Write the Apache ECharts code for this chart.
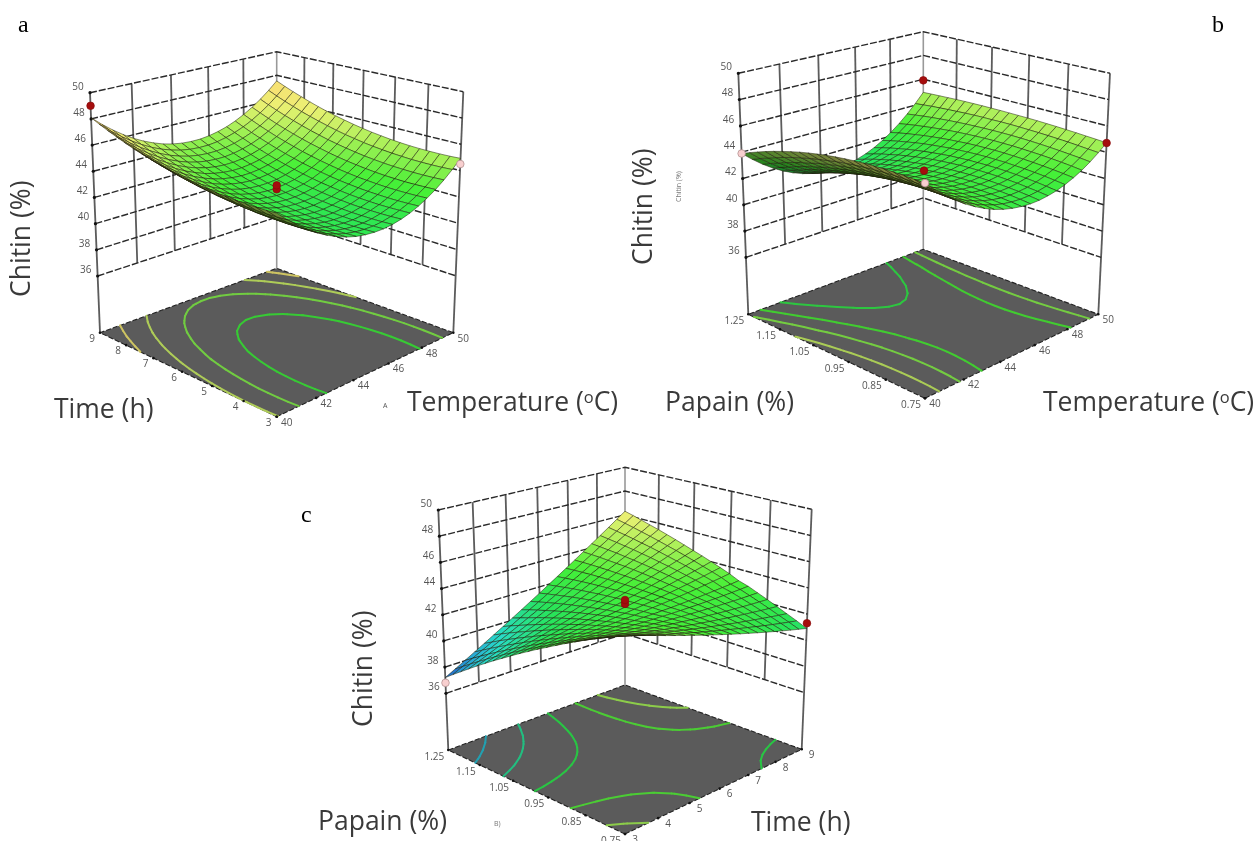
<!DOCTYPE html>
<html><head><meta charset="utf-8"><style>html,body{margin:0;background:#fff}#c{width:1255px;height:841px}</style>
<script src="https://cdn.jsdelivr.net/npm/echarts@6/dist/echarts.min.js"></script></head><body><div id="c"></div><script>
const N=21;
const chitinA=[
[45.49,44.79,44.17,43.62,43.13,42.72,42.38,42.10,41.90,41.77,41.71,41.71,41.79,41.94,42.15,42.44,42.80,43.22,43.72,44.29,44.93],
[45.45,44.75,44.13,43.58,43.10,42.68,42.34,42.07,41.86,41.73,41.67,41.67,41.75,41.90,42.12,42.40,42.76,43.19,43.68,44.25,44.89],
[45.43,44.73,44.11,43.56,43.08,42.66,42.32,42.05,41.84,41.71,41.65,41.65,41.73,41.88,42.10,42.38,42.74,43.17,43.66,44.23,44.87],
[45.43,44.73,44.11,43.56,43.07,42.66,42.32,42.04,41.84,41.71,41.65,41.65,41.73,41.88,42.09,42.38,42.74,43.16,43.66,44.23,44.87],
[45.44,44.75,44.12,43.57,43.09,42.68,42.33,42.06,41.86,41.72,41.66,41.67,41.74,41.89,42.11,42.40,42.75,43.18,43.68,44.24,44.88],
[45.47,44.78,44.16,43.60,43.12,42.71,42.37,42.09,41.89,41.76,41.69,41.70,41.78,41.92,42.14,42.43,42.79,43.21,43.71,44.28,44.91],
[45.52,44.83,44.21,43.66,43.17,42.76,42.42,42.14,41.94,41.81,41.74,41.75,41.83,41.98,42.19,42.48,42.84,43.26,43.76,44.33,44.96],
[45.59,44.90,44.28,43.72,43.24,42.83,42.48,42.21,42.01,41.88,41.81,41.82,41.90,42.04,42.26,42.55,42.90,43.33,43.83,44.40,45.03],
[45.68,44.99,44.36,43.81,43.33,42.91,42.57,42.30,42.09,41.96,41.90,41.91,41.98,42.13,42.35,42.63,42.99,43.42,43.91,44.48,45.12],
[45.78,45.09,44.47,43.91,43.43,43.02,42.67,42.40,42.20,42.06,42.00,42.01,42.09,42.23,42.45,42.74,43.09,43.52,44.02,44.58,45.22],
[45.90,45.21,44.59,44.03,43.55,43.14,42.80,42.52,42.32,42.19,42.12,42.13,42.21,42.35,42.57,42.86,43.22,43.64,44.14,44.71,45.34],
[46.04,45.35,44.73,44.17,43.69,43.28,42.93,42.66,42.46,42.32,42.26,42.27,42.35,42.49,42.71,43.00,43.35,43.78,44.28,44.84,45.48],
[46.20,45.51,44.88,44.33,43.85,43.43,43.09,42.82,42.61,42.48,42.42,42.43,42.50,42.65,42.87,43.15,43.51,43.94,44.43,45.00,45.64],
[46.37,45.68,45.06,44.50,44.02,43.61,43.26,42.99,42.79,42.66,42.59,42.60,42.68,42.82,43.04,43.33,43.68,44.11,44.61,45.18,45.81],
[46.56,45.87,45.25,44.70,44.21,43.80,43.46,43.18,42.98,42.85,42.78,42.79,42.87,43.02,43.23,43.52,43.88,44.30,44.80,45.37,46.00],
[46.77,46.08,45.46,44.90,44.42,44.01,43.67,43.39,43.19,43.06,42.99,43.00,43.08,43.22,43.44,43.73,44.09,44.51,45.01,45.58,46.21],
[47.00,46.31,45.68,45.13,44.65,44.24,43.89,43.62,43.42,43.28,43.22,43.23,43.30,43.45,43.67,43.96,44.31,44.74,45.24,45.80,46.44],
[47.25,46.55,45.93,45.38,44.89,44.48,44.14,43.86,43.66,43.53,43.47,43.47,43.55,43.70,43.91,44.20,44.56,44.98,45.48,46.05,46.69],
[47.51,46.81,46.19,45.64,45.16,44.74,44.40,44.13,43.92,43.79,43.73,43.73,43.81,43.96,44.18,44.46,44.82,45.25,45.74,46.31,46.95],
[47.79,47.09,46.47,45.92,45.44,45.02,44.68,44.41,44.20,44.07,44.01,44.01,44.09,44.24,44.46,44.74,45.10,45.53,46.02,46.59,47.23],
[48.09,47.39,46.77,46.22,45.73,45.32,44.98,44.70,44.50,44.37,44.31,44.31,44.39,44.54,44.75,45.04,45.40,45.82,46.32,46.89,47.53]];
const chitinB=[
[46.28,45.58,44.95,44.39,43.88,43.45,43.08,42.77,42.53,42.36,42.25,42.20,42.22,42.31,42.45,42.67,42.95,43.29,43.70,44.18,44.72],
[46.32,45.63,45.00,44.43,43.94,43.51,43.14,42.84,42.60,42.43,42.33,42.29,42.31,42.40,42.55,42.76,43.04,43.38,43.78,44.24,44.77],
[46.35,45.65,45.03,44.47,43.97,43.54,43.18,42.89,42.66,42.49,42.39,42.36,42.39,42.47,42.63,42.84,43.11,43.45,43.84,44.30,44.82],
[46.35,45.66,45.04,44.48,43.99,43.57,43.21,42.92,42.69,42.53,42.44,42.41,42.44,42.54,42.69,42.90,43.17,43.51,43.90,44.36,44.87],
[46.35,45.66,45.03,44.48,43.99,43.57,43.22,42.93,42.71,42.56,42.47,42.45,42.48,42.58,42.74,42.95,43.22,43.56,43.95,44.40,44.91],
[46.32,45.63,45.01,44.46,43.98,43.56,43.21,42.93,42.71,42.56,42.48,42.47,42.51,42.61,42.77,42.98,43.26,43.59,43.99,44.44,44.95],
[46.28,45.59,44.97,44.42,43.94,43.53,43.18,42.91,42.70,42.55,42.48,42.47,42.52,42.62,42.79,43.01,43.28,43.62,44.02,44.47,44.98],
[46.22,45.53,44.92,44.37,43.89,43.48,43.14,42.87,42.66,42.53,42.46,42.46,42.51,42.62,42.79,43.01,43.30,43.64,44.04,44.49,45.01],
[46.14,45.46,44.85,44.30,43.83,43.42,43.08,42.81,42.61,42.48,42.42,42.42,42.48,42.60,42.77,43.01,43.30,43.64,44.05,44.51,45.03],
[46.05,45.37,44.76,44.22,43.74,43.34,43.01,42.74,42.55,42.42,42.37,42.38,42.44,42.57,42.75,42.99,43.28,43.64,44.05,44.52,45.04],
[45.94,45.26,44.65,44.11,43.64,43.24,42.91,42.65,42.47,42.35,42.30,42.31,42.38,42.51,42.70,42.95,43.26,43.62,44.04,44.52,45.05],
[45.81,45.13,44.53,43.99,43.52,43.13,42.80,42.55,42.36,42.25,42.21,42.23,42.31,42.45,42.65,42.90,43.22,43.59,44.02,44.50,45.06],
[45.67,44.99,44.39,43.85,43.39,43.00,42.68,42.43,42.25,42.14,42.10,42.13,42.22,42.37,42.57,42.84,43.16,43.55,43.99,44.50,45.06],
[45.51,44.83,44.23,43.70,43.24,42.85,42.53,42.29,42.11,42.01,41.98,42.02,42.11,42.27,42.48,42.76,43.10,43.50,43.96,44.48,45.06],
[45.33,44.66,44.05,43.53,43.07,42.68,42.37,42.13,41.96,41.87,41.84,41.88,41.99,42.15,42.38,42.67,43.02,43.44,43.91,44.45,45.05],
[45.13,44.46,43.86,43.34,42.88,42.50,42.19,41.96,41.79,41.70,41.68,41.73,41.85,42.02,42.26,42.57,42.93,43.36,43.86,44.41,45.04],
[44.92,44.25,43.65,43.13,42.68,42.30,42.00,41.77,41.61,41.52,41.51,41.57,41.69,41.88,42.13,42.45,42.83,43.28,43.79,44.37,45.02],
[44.69,44.02,43.43,42.91,42.46,42.09,41.79,41.56,41.41,41.33,41.32,41.38,41.52,41.71,41.98,42.31,42.71,43.18,43.72,44.32,44.99],
[44.44,43.78,43.19,42.67,42.22,41.85,41.56,41.34,41.19,41.11,41.11,41.18,41.33,41.54,41.82,42.17,42.59,43.08,43.64,44.27,44.96],
[44.18,43.52,42.93,42.41,41.97,41.60,41.31,41.09,40.95,40.88,40.89,40.97,41.12,41.34,41.64,42.01,42.45,42.96,43.54,44.20,44.93],
[43.90,43.24,42.65,42.14,41.70,41.34,41.05,40.84,40.70,40.63,40.65,40.73,40.90,41.13,41.44,41.83,42.29,42.83,43.44,44.13,44.89]];
const chitinC=[
[45.20,44.94,44.68,44.43,44.18,43.94,43.70,43.47,43.24,43.02,42.80,42.59,42.38,42.18,41.98,41.79,41.60,41.42,41.24,41.07,40.90],
[44.88,44.65,44.42,44.20,43.99,43.78,43.58,43.38,43.18,42.99,42.81,42.63,42.46,42.29,42.13,41.97,41.81,41.66,41.52,41.38,41.25],
[44.54,44.35,44.16,43.97,43.79,43.62,43.45,43.28,43.12,42.96,42.81,42.67,42.53,42.39,42.26,42.14,42.02,41.90,41.79,41.68,41.58],
[44.20,44.04,43.88,43.73,43.59,43.44,43.31,43.17,43.05,42.93,42.81,42.70,42.59,42.49,42.39,42.30,42.21,42.13,42.05,41.98,41.91],
[43.86,43.73,43.60,43.49,43.37,43.26,43.16,43.06,42.97,42.88,42.80,42.72,42.64,42.58,42.51,42.45,42.40,42.35,42.31,42.27,42.24],
[43.50,43.40,43.31,43.23,43.15,43.07,43.01,42.94,42.88,42.82,42.77,42.73,42.69,42.66,42.63,42.60,42.58,42.56,42.55,42.55,42.55],
[43.14,43.07,43.02,42.97,42.92,42.88,42.84,42.81,42.78,42.76,42.75,42.73,42.73,42.73,42.73,42.74,42.75,42.77,42.79,42.82,42.86],
[42.76,42.74,42.71,42.70,42.68,42.67,42.67,42.67,42.67,42.68,42.69,42.71,42.73,42.76,42.79,42.83,42.87,42.92,42.97,43.02,43.09],
[42.38,42.39,42.40,42.42,42.44,42.46,42.49,42.53,42.57,42.61,42.66,42.72,42.78,42.85,42.92,42.99,43.07,43.16,43.25,43.34,43.44],
[42.00,42.03,42.08,42.13,42.18,42.24,42.30,42.37,42.45,42.53,42.61,42.70,42.79,42.89,43.00,43.11,43.22,43.34,43.46,43.59,43.73],
[41.60,41.67,41.75,41.83,41.92,42.01,42.11,42.21,42.32,42.43,42.55,42.67,42.80,42.93,43.07,43.21,43.36,43.51,43.67,43.83,44.00],
[41.20,41.30,41.41,41.53,41.65,41.78,41.91,42.04,42.18,42.33,42.48,42.64,42.80,42.96,43.14,43.31,43.49,43.68,43.87,44.07,44.27],
[40.78,40.92,41.07,41.22,41.37,41.53,41.70,41.87,42.04,42.22,42.40,42.59,42.79,42.99,43.19,43.40,43.62,43.84,44.06,44.29,44.52],
[40.36,40.54,40.71,40.90,41.09,41.28,41.48,41.68,41.89,42.10,42.32,42.54,42.77,43.00,43.24,43.48,43.73,43.98,44.24,44.51,44.77],
[39.94,40.14,40.35,40.57,40.79,41.02,41.25,41.49,41.73,41.97,42.23,42.48,42.74,43.01,43.28,43.56,43.84,44.13,44.42,44.71,45.02],
[39.50,39.74,39.98,40.23,40.49,40.75,41.02,41.28,41.56,41.84,42.13,42.41,42.71,43.01,43.31,43.63,43.94,44.26,44.59,44.91,45.25],
[39.06,39.33,39.61,39.89,40.18,40.47,40.77,41.08,41.38,41.70,42.02,42.34,42.67,43.00,43.34,43.68,44.03,44.39,44.74,45.11,45.48],
[38.60,38.91,39.22,39.54,39.86,40.19,40.52,40.86,41.20,41.55,41.90,42.26,42.62,42.99,43.36,43.73,44.12,44.50,44.90,45.29,45.69],
[38.14,38.48,38.83,39.18,39.54,39.90,40.26,40.63,41.01,41.39,41.77,42.16,42.56,42.96,43.37,43.78,44.19,44.61,45.04,45.47,45.90],
[37.68,38.05,38.43,38.81,39.20,39.60,40.00,40.40,40.81,41.22,41.64,42.06,42.49,42.93,43.37,43.81,44.26,44.71,45.17,45.64,46.11],
[37.20,37.61,38.02,38.44,38.86,39.29,39.72,40.16,40.60,41.05,41.50,41.96,42.42,42.89,43.36,43.84,44.32,44.81,45.30,45.80,46.30]];
const chitinTicks=[36,38,40,42,44,46,48,50];
const temperatureTicks=[40,42,44,46,48,50];
const timeTicks=[3,4,5,6,7,8,9];
const papainTicks=[0.75,0.85,0.95,1.05,1.15,1.25];
const contourLevelsA=[42.7,44.05,45.4,46.75,48.1];
const contourLevelsB=[42,43.1,44.1,45.3];
const contourLevelsC=[38.8,40.3,41.8,43.3,44.6];
const designPointsA=[[40,9,49,1],[45,6,42.6,1],[45,6,42.9,1],[50,3,44.5,0]];
const designPointsB=[[50,1.25,45.9,1],[50,0.75,44.7,1],[45,1,42.6,1],[40,1.25,43.9,0],[40,0.75,46.3,0]];
const designPointsC=[[9,0.75,41.3,1],[6,1,42.8,1],[6,1,43.1,1],[3,1.25,36.8,0]];
const panels=[
{surface:chitinA,uTicks:temperatureTicks,vTicks:timeTicks,levels:contourLevelsA,points:designPointsA,
 floor:[[276.7,416.7],[453.3,332.7],[276.7,268.3],[100,332.7]],top:[[276.7,146.7],[463.3,91.7],[276.7,51.7],[90,92.7]],vFmt:0,uOff:[10,6],vOff:[-8,6]},
{surface:chitinB,uTicks:temperatureTicks,vTicks:papainTicks,levels:contourLevelsB,points:designPointsB,
 floor:[[925,398.3],[1098.3,314.3],[923.3,249.3],[748.3,314.3]],top:[[925,128.7],[1110,73.3],[923.3,31.7],[738.3,73.3]],vFmt:2,uOff:[10,6],vOff:[-14,7]},
{surface:chitinC,uTicks:timeTicks,vTicks:papainTicks,levels:contourLevelsC,points:designPointsC,
 floor:[[625,834],[801.7,749.3],[625,685],[448.3,750]],top:[[625,564.3],[811.7,509.3],[625,467.3],[438.3,510]],vFmt:2,uOff:[10,6],vOff:[-14,7]}
];
const zFloor=31.67,zTop=50;
function hom(q){const [p0,p1,p2,p3]=q;const dx1=p1[0]-p2[0],dx2=p3[0]-p2[0],sx=p0[0]-p1[0]+p2[0]-p3[0],dy1=p1[1]-p2[1],dy2=p3[1]-p2[1],sy=p0[1]-p1[1]+p2[1]-p3[1];
const den=dx1*dy2-dx2*dy1,g=(sx*dy2-dx2*sy)/den,h=(dx1*sy-sx*dy1)/den,a=p1[0]-p0[0]+g*p1[0],b=p3[0]-p0[0]+h*p3[0],d=p1[1]-p0[1]+g*p1[1],e=p3[1]-p0[1]+h*p3[1];
return (u,v)=>{const w=g*u+h*v+1;return [(a*u+b*v+p0[0])/w,(d*u+e*v+p0[1])/w];};}
const stops=[[37,[30,70,190]],[38.2,[40,160,215]],[39.5,[40,220,200]],[41.3,[40,228,90]],[43,[70,240,55]],[44.5,[160,240,85]],[46,[235,240,115]],[47.5,[250,220,115]],[49,[250,180,90]]];
function rgb(c,k){return `rgb(${c.map(x=>Math.round(x*k)).join(',')})`;}
function ramp(z,k=1){const s=stops;if(z<=s[0][0])return rgb(s[0][1],k);for(let i=1;i<s.length;i++){if(z<=s[i][0]){const t=(z-s[i-1][0])/(s[i][0]-s[i-1][0]);return rgb(s[i-1][1].map((c,n)=>c+(s[i][1][n]-c)*t),k);}}return rgb(s[s.length-1][1],k);}
const series=[];
panels.forEach(p=>{
 const F=hom(p.floor),T=hom(p.top);
 const uMin=p.uTicks[0],uMax=p.uTicks[p.uTicks.length-1],vMin=p.vTicks[0],vMax=p.vTicks[p.vTicks.length-1];
 const pr=(u,v,z)=>{const a=F(u,v),b=T(u,v),s=(z-zFloor)/(zTop-zFloor);return [a[0]+(b[0]-a[0])*s,a[1]+(b[1]-a[1])*s];};
 const nu=x=>(x-uMin)/(uMax-uMin),nv=x=>(x-vMin)/(vMax-vMin);
 const g=p.surface;
 series.push({type:'custom',coordinateSystem:'cartesian2d',silent:true,animation:false,clip:false,z:1,data:[[0,0]],encode:{x:0,y:1},
 renderItem(params,api){
  const C=q=>api.coord(q);const ch=[];
  const line=(pts,st)=>ch.push({type:'polyline',shape:{points:pts.map(C)},style:Object.assign({fill:null},st)});
  const hs={stroke:'#2a2a2a',lineWidth:1.4,lineDash:[7,2]},vs={stroke:'#5c5c5c',lineWidth:1.8};
  p.uTicks.forEach(t=>{const u=nu(t);if(u>0&&u<1)line([pr(u,1,36),pr(u,1,50)],vs);});
  p.vTicks.forEach(t=>{const v=nv(t);if(v>0&&v<1)line([pr(1,v,36),pr(1,v,50)],vs);});
  line([pr(0,1,zFloor),pr(0,1,50)],vs);line([pr(1,0,zFloor),pr(1,0,50)],vs);line([pr(1,1,zFloor),pr(1,1,50)],{stroke:'#999',lineWidth:1.6});
  chitinTicks.forEach(z=>{line([pr(0,1,z),pr(1,1,z),pr(1,0,z)],hs);
   const q=C(pr(0,1,z));ch.push({type:'circle',shape:{cx:q[0],cy:q[1],r:1.6},style:{fill:'#111'}});
   ch.push({type:'text',x:q[0]-12,y:q[1]-6,style:{text:String(z),fill:'#555',font:'10px "Open Sans"',align:'center',verticalAlign:'middle'}});});
  ch.push({type:'polygon',shape:{points:[pr(0,0,zFloor),pr(1,0,zFloor),pr(1,1,zFloor),pr(0,1,zFloor)].map(C)},style:{fill:'#5b5b5b',stroke:'#222',lineWidth:1.1,lineDash:[5,2]}});
  p.levels.forEach(L=>{const col=ramp(L,.85),st={stroke:col,lineWidth:2,lineCap:'round'};
   for(let j=0;j<N-1;j++)for(let i=0;i<N-1;i++){
    const c=[[i,j],[i+1,j],[i+1,j+1],[i,j+1]],pts=[];
    for(let k=0;k<4;k++){const a=c[k],b=c[(k+1)%4],za=g[a[1]][a[0]],zb=g[b[1]][b[0]];
     if((za<L)!==(zb<L)){const t=(L-za)/(zb-za);pts.push(pr((a[0]+(b[0]-a[0])*t)/(N-1),(a[1]+(b[1]-a[1])*t)/(N-1),zFloor));}}
    if(pts.length>=2)line(pts.slice(0,2),st);
    if(pts.length==4)line(pts.slice(2,4),st);
   }});
  const lab=(q,off,t)=>{const c=C(q);ch.push({type:'circle',shape:{cx:c[0],cy:c[1],r:1.3},style:{fill:'#111'}});
   ch.push({type:'text',x:c[0]+off[0],y:c[1]+off[1],style:{text:t,fill:'#555',font:'10px "Open Sans"',align:'center',verticalAlign:'middle'}});};
  p.uTicks.forEach(t=>lab(pr(nu(t),0,zFloor),p.uOff,String(t)));
  p.vTicks.forEach(t=>lab(pr(0,nv(t),zFloor),p.vOff,t.toFixed(p.vFmt)));
  return {type:'group',children:ch};
 }});
 const cells=[];for(let j=N-2;j>=0;j--)for(let i=N-2;i>=0;i--)cells.push([i,j,g[j][i]]);
 series.push({type:'custom',coordinateSystem:'cartesian2d',silent:true,animation:false,clip:false,z:2,data:cells,encode:{x:0,y:1},
 renderItem(params,api){
  const i=api.value(0),j=api.value(1),o=[[i,j],[i+1,j],[i+1,j+1],[i,j+1]];
  const q=o.map(a=>pr(a[0]/(N-1),a[1]/(N-1),g[a[1]][a[0]]));
  let A=0;q.forEach((a,n)=>{const b=q[(n+1)%4];A+=a[0]*b[1]-b[0]*a[1];});
  const zm=o.reduce((s,a)=>s+g[a[1]][a[0]],0)/4;
  return {type:'polygon',shape:{points:q.map(a=>api.coord(a))},style:{fill:A<0?ramp(zm):ramp(zm,.55),stroke:'rgba(30,30,10,.6)',lineWidth:.85}};
 }});
 series.push({type:'custom',coordinateSystem:'cartesian2d',silent:true,animation:false,clip:false,z:3,data:p.points,encode:{x:0,y:1},
 renderItem(params,api){const c=api.coord(pr(nu(api.value(0)),nv(api.value(1)),api.value(2)));const red=api.value(3)===1;
  return {type:'circle',shape:{cx:c[0],cy:c[1],r:3.8},style:{fill:red?'#a50d0d':'#f8cfcf',stroke:red?'#8a0a0a':'#a88',lineWidth:.7}};}});
});
const size=26.5;
const rich={s:{font:`${size*.62}px "Open Sans"`,fill:'#3a3a3a',verticalAlign:'top',padding:[0,0,8,0]}};
const T=(t,x,y,extra)=>Object.assign({type:'text',x,y,z:10,style:{text:t,font:`${size}px "Open Sans"`,fill:'#3a3a3a',rich}},extra||{});
const S=(t,x,y)=>({type:'text',x,y,z:10,style:{text:t,font:'24px "Liberation Serif"',fill:'#000'}});
const rot={rotation:Math.PI/2};
const graphic=[S('a',18,14),S('b',1212,14),S('c',301,504),
 T('Chitin (%)',9,297,rot),T('Chitin (%)',631,265,rot),T('Chitin (%)',351,727,rot),
 T('Time (h)',54,397),T('Temperature ({s|o}C)',407,390),T('Papain (%)',665,390),T('Temperature ({s|o}C)',1043,390),
 T('Papain (%)',318,809),T('Time (h)',751,810),
 {type:'text',x:675,y:202,z:10,rotation:Math.PI/2,style:{text:'Chitin (%)',font:'7px "Open Sans"',fill:'#777'}},
 {type:'text',x:383,y:402,z:10,style:{text:'A',font:'7px "Open Sans"',fill:'#555'}},
 {type:'text',x:494,y:820,z:10,style:{text:'B)',font:'7px "Open Sans"',fill:'#777'}}];
const chart=echarts.init(document.getElementById('c'),null,{renderer:'canvas'});
chart.setOption({animation:false,grid:{left:0,right:0,top:0,bottom:0},xAxis:{type:'value',min:0,max:1255,show:false},yAxis:{type:'value',min:0,max:841,inverse:true,show:false},series,graphic});
</script></body></html>
